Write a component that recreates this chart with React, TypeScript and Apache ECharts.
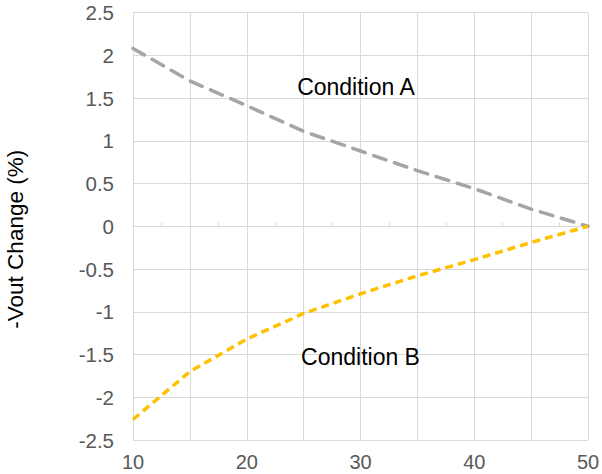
import React, { useEffect, useRef } from "react";
import * as echarts from "echarts";

const xValues = [10, 15, 20, 25, 30, 35, 40, 45, 50];
const conditionA = [2.08, 1.7, 1.41, 1.11, 0.88, 0.65, 0.44, 0.2, 0];
const conditionB = [-2.26, -1.7, -1.32, -1.02, -0.79, -0.58, -0.39, -0.19, 0];
const xTickLabels = [10, 20, 30, 40, 50];
const labelA = { name: "Condition A", coord: [29.6, 1.63] };
const labelB = { name: "Condition B", coord: [30.0, -1.53] };

const FONT = "'Liberation Sans', Arial, Helvetica, sans-serif";

export default function App() {
  const ref = useRef<HTMLDivElement>(null);
  useEffect(() => {
    if (!ref.current) return;
    const chart = echarts.init(ref.current, undefined, { renderer: "svg" });
    const pairs = (ys: number[]) => xValues.map((x, i) => [x, ys[i]]);
    chart.setOption({
      animation: false,
      backgroundColor: "#ffffff",
      grid: { left: 133, right: 14, top: 12.5, bottom: 34, containLabel: false, outerBoundsMode: "none" },
      xAxis: [
        {
          type: "value",
          min: 10,
          max: 50,
          interval: 5,
          position: "bottom",
          axisLine: { show: false, onZero: false },
          axisTick: { show: false },
          splitLine: { show: true, lineStyle: { color: "#D9D9D9", width: 1 } },
          axisLabel: {
            color: "#595959",
            fontSize: 20,
            fontFamily: FONT,
            margin: 12,
            formatter: (v: number) => (xTickLabels.includes(v) ? String(v) : ""),
          },
        },
        {
          type: "value",
          min: 10,
          max: 50,
          interval: 5,
          position: "top",
          axisLine: { show: true, onZero: true, lineStyle: { color: "#D9D9D9", width: 1 } },
          axisTick: { show: false },
          minorTick: { show: true, splitNumber: 2, length: 4, lineStyle: { color: "#D9D9D9", width: 1 } },
          axisLabel: { show: false },
          splitLine: { show: false },
        },
      ],
      yAxis: {
        type: "value",
        min: -2.5,
        max: 2.5,
        interval: 0.5,
        name: "-Vout Change (%)",
        nameLocation: "middle",
        nameGap: 106,
        nameTextStyle: { color: "#000000", fontSize: 22.5, fontFamily: FONT, padding: [0, 26, 0, 0] },
        axisLine: { show: false },
        axisTick: { show: false },
        splitLine: { show: true, lineStyle: { color: "#D9D9D9", width: 1 } },
        axisLabel: {
          color: "#595959",
          fontSize: 20.5,
          fontFamily: FONT,
          margin: 19,
          formatter: (v: number) => String(v),
        },
      },
      series: [
        {
          name: "Condition A",
          type: "line",
          data: pairs(conditionA),
          showSymbol: false,
          symbol: "none",
          lineStyle: { color: "#A5A5A5", width: 3.5, type: [13, 9], cap: "round" },
          markPoint: {
            symbol: "circle",
            symbolSize: 0,
            data: [{ name: labelA.name, coord: labelA.coord }],
            label: { show: true, formatter: labelA.name, color: "#000", fontSize: 23, fontFamily: FONT },
          },
        },
        {
          name: "Condition B",
          type: "line",
          data: pairs(conditionB),
          showSymbol: false,
          symbol: "none",
          lineStyle: { color: "#FFC000", width: 3.5, type: [8, 5], cap: "butt" },
          markPoint: {
            symbol: "circle",
            symbolSize: 0,
            data: [{ name: labelB.name, coord: labelB.coord }],
            label: { show: true, formatter: labelB.name, color: "#000", fontSize: 23, fontFamily: FONT },
          },
        },
      ],
    });
    return () => chart.dispose();
  }, []);
  return (
    <div
      ref={ref}
      style={{ position: "fixed", left: 0, top: 0, width: 602, height: 474, background: "#fff" }}
    />
  );
}
